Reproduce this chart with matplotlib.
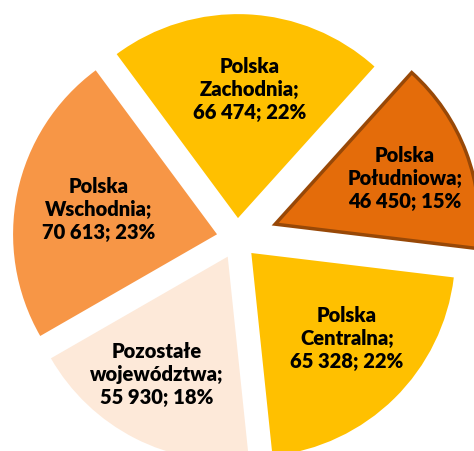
import matplotlib
matplotlib.use("Agg")
import matplotlib.pyplot as plt

# data
regions = ["Polska\nZachodnia", "Polska\nPołudniowa", "Polska\nCentralna",
           "Pozostałe\nwojewództwa", "Polska\nWschodnia"]
values = [66474, 46450, 65328, 55930, 70613]
shares = [22, 15, 22, 18, 23]

colors = ["#FFC000", "#E46C0A", "#FFC000", "#FDE9D9", "#F79646"]
explode = [0.1, 0.2, 0.1, 0.1, 0.1]

# label centres (data units, pie radius = 1)
label_pos = [(0.064, 0.733), (0.824, 0.301), (0.539, -0.487),
             (-0.392, -0.664), (-0.676, 0.149)]

plt.rcParams["font.family"] = ["Lato", "DejaVu Sans"]

fig = plt.figure(figsize=(4.74, 4.52), dpi=100)
ax = fig.add_axes([0, 0, 1, 1])

wedges, _ = ax.pie(values, colors=colors, explode=explode, startangle=126.5,
                   counterclock=False, radius=1.0,
                   wedgeprops=dict(linewidth=0))
wedges[1].set_edgecolor("#984807")
wedges[1].set_linewidth(2.5)

def fmt(v):
    return f"{v:,}".replace(",", " ")

for name, v, s, (x, y) in zip(regions, values, shares, label_pos):
    ax.text(x, y, f"{name};\n{fmt(v)}; {s}%", ha="center", va="center",
            fontsize=14.5, fontweight="heavy", color="black", linespacing=1.25)

ax.set_xlim(-1.162, 1.162)
ax.set_ylim(-1.042, 1.174)
ax.set_aspect("auto")
ax.axis("off")

fig.savefig("out.png", dpi=100, facecolor="white")
